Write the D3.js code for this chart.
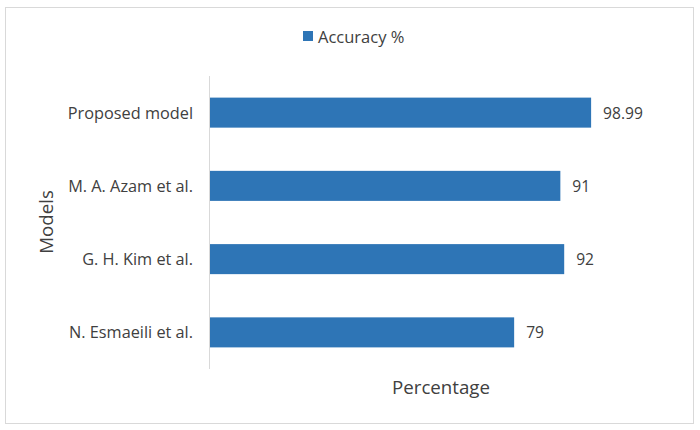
<!DOCTYPE html>
<html><head><meta charset="utf-8">
<script src="https://cdn.jsdelivr.net/npm/d3@7"></script>
<style>body{margin:0;background:#fff}svg{display:block}text{font-family:"Open Sans",Lato,sans-serif;fill:#404040}</style>
</head><body>
<script>
const categories = ["Proposed model", "M. A. Azam et al.", "G. H. Kim et al.", "N. Esmaeili et al."];
const values = [98.99, 91, 92, 79];
const valueLabels = ["98.99", "91", "92", "79"];
const seriesName = "Accuracy %";
const xTitle = "Percentage";
const yTitle = "Models";

const W = 700, H = 430;
const svg = d3.select("body").append("svg").attr("width", W).attr("height", H);
svg.append("rect").attr("x", 5.5).attr("y", 7.5).attr("width", 688).attr("height", 416)
  .attr("fill", "#fff").attr("stroke", "#d9d9d9").attr("stroke-width", 1);

const x = d3.scaleLinear().domain([0, 120]).range([210, 672]);
const y = d3.scaleBand().domain(categories).range([76, 369]).paddingInner(0.59).paddingOuter(0.295);

svg.selectAll("rect.bar").data(values).enter().append("rect")
  .attr("class", "bar")
  .attr("x", x(0)).attr("y", (d, i) => y(categories[i]))
  .attr("width", d => x(d) - x(0)).attr("height", y.bandwidth())
  .attr("fill", "#2E75B6");

svg.append("line").attr("x1", 209.5).attr("x2", 209.5).attr("y1", 76).attr("y2", 369)
  .attr("stroke", "#d9d9d9").attr("stroke-width", 1);

svg.selectAll("text.cat").data(categories).enter().append("text")
  .attr("x", 193).attr("y", d => y(d) + y.bandwidth() / 2)
  .attr("text-anchor", "end").attr("dominant-baseline", "central")
  .style("font-size", "16.3px").text(d => d);

svg.selectAll("text.val").data(values).enter().append("text")
  .attr("x", d => x(d) + 12).attr("y", (d, i) => y(categories[i]) + y.bandwidth() / 2)
  .attr("dominant-baseline", "central")
  .style("font-size", "15.6px").text((d, i) => valueLabels[i]);

svg.append("text").attr("x", 441).attr("y", 386).attr("text-anchor", "middle")
  .attr("dominant-baseline", "central").style("font-size", "18.7px").text(xTitle);

svg.append("text").attr("transform", "translate(45,222) rotate(-90)").attr("text-anchor", "middle")
  .attr("dominant-baseline", "central").style("font-size", "18.7px").text(yTitle);

svg.append("rect").attr("x", 303).attr("y", 31).attr("width", 10).attr("height", 10).attr("fill", "#2E75B6");
svg.append("text").attr("x", 318).attr("y", 36).attr("dominant-baseline", "central")
  .style("font-size", "16.5px").text(seriesName);
</script>
</body></html>
